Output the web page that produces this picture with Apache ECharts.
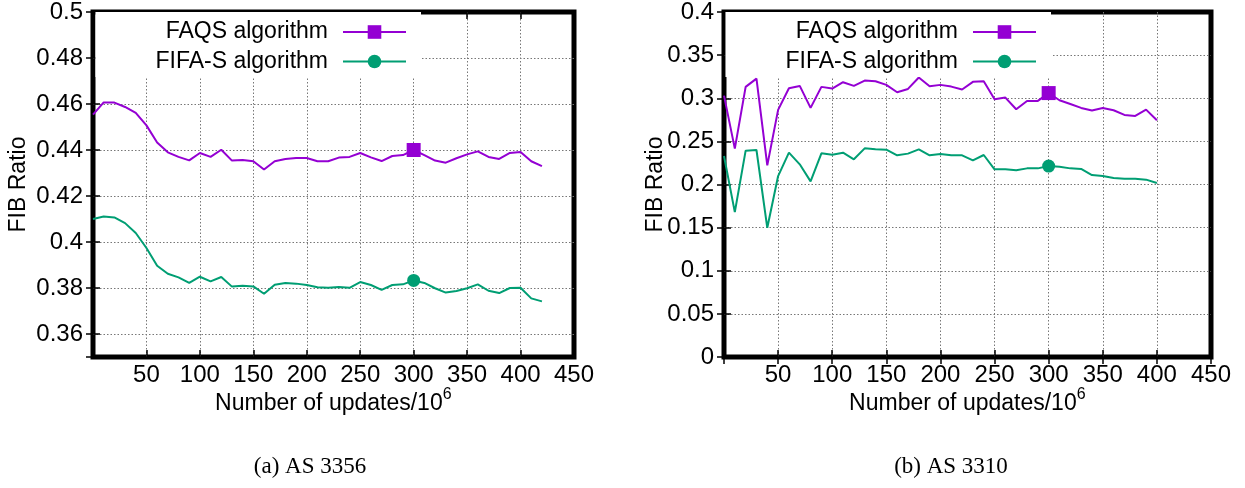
<!DOCTYPE html>
<html><head><meta charset="utf-8">
<script src="https://cdn.jsdelivr.net/npm/echarts@6/dist/echarts.min.js"></script>
<style>html,body{margin:0;padding:0;background:#fff}#c{width:1245px;height:488px}</style>
</head><body><div id="c"></div>
<script>
// ---- data ----
const xA = [0,10,20,30,40,50,60,70,80,90,100,110,120,130,140,150,160,170,180,190,200,210,220,230,240,250,260,270,280,290,300,310,320,330,340,350,360,370,380,390,400,410,420];
const faqsA = [0.4554,0.4607,0.4606,0.4587,0.4561,0.4507,0.4433,0.4390,0.4370,0.4355,0.4387,0.4370,0.4401,0.4354,0.4357,0.4351,0.4315,0.4351,0.4361,0.4365,0.4365,0.4351,0.4351,0.4367,0.4370,0.4387,0.4368,0.4352,0.4374,0.4378,0.4400,0.4378,0.4354,0.4345,0.4364,0.4381,0.4394,0.4370,0.4361,0.4387,0.4391,0.4351,0.4330];
const fifaA = [0.4100,0.4111,0.4107,0.4082,0.4039,0.3974,0.3897,0.3862,0.3846,0.3822,0.3849,0.3829,0.3848,0.3806,0.3810,0.3807,0.3775,0.3814,0.3822,0.3819,0.3813,0.3803,0.3801,0.3804,0.3801,0.3826,0.3813,0.3792,0.3813,0.3816,0.3833,0.3822,0.3799,0.3780,0.3787,0.3799,0.3816,0.3788,0.3778,0.3800,0.3801,0.3755,0.3742];
const xB = [0,10,20,30,40,50,60,70,80,90,100,110,120,130,140,150,160,170,180,190,200,210,220,230,240,250,260,270,280,290,300,310,320,330,340,350,360,370,380,390,400];
const faqsB = [0.303,0.2416,0.3132,0.3228,0.2222,0.2865,0.3116,0.3143,0.2888,0.3132,0.3112,0.3186,0.3143,0.3205,0.3197,0.3155,0.3070,0.3108,0.3240,0.3139,0.3155,0.3135,0.3101,0.3190,0.3197,0.2988,0.3008,0.2872,0.2969,0.2969,0.3060,0.2977,0.2934,0.2888,0.2857,0.2888,0.2861,0.2807,0.2795,0.2868,0.2745];
const fifaB = [0.233,0.168,0.2392,0.2400,0.1498,0.2098,0.2369,0.2234,0.2036,0.2361,0.2346,0.2369,0.2292,0.2419,0.2408,0.2404,0.2338,0.2358,0.2408,0.2338,0.2354,0.2338,0.2338,0.2280,0.2342,0.2176,0.2176,0.2164,0.2187,0.2187,0.2214,0.2207,0.2187,0.2180,0.2110,0.2098,0.2075,0.2067,0.2067,0.2056,0.2017];
const markX = 300;
const seriesNames = ['FAQS algorithm', 'FIFA-S algorithm'];
const captions = ['(a) AS 3356', '(b) AS 3310'];
const xName = 'Number of updates/10';
const xNameSup = '6';
const yName = 'FIB Ratio';
const xRange = [0, 450];
const yRangeA = [0.35, 0.5];
const yRangeB = [0, 0.4];

// ---- style ----
const PURPLE = '#9400D3', GREEN = '#009E73';
const FONT = 'Liberation Sans, Arial, Helvetica, sans-serif';
const TICK_FS = 24;

const pairs = (xs, ys) => xs.map((x, i) => [x, ys[i]]);

const grids = [
  {left: 93, top: 12, width: 481, height: 345, show: true, borderColor: '#000', borderWidth: 5, backgroundColor: 'transparent'},
  {left: 724, top: 12, width: 487, height: 345, show: true, borderColor: '#000', borderWidth: 5, backgroundColor: 'transparent'}
];

const splitStyle = {show: true, showMinLine: false, showMaxLine: false, lineStyle: {color: '#777', width: 1, type: [1.5, 2]}};
const tickStyle = {show: true, inside: true, length: 7, lineStyle: {color: '#000', width: 1.5}};

function xMain(gi) {
  return {
    type: 'value', gridIndex: gi, min: xRange[0], max: xRange[1], interval: 50, position: 'bottom',
    axisLine: {show: false}, axisTick: tickStyle, splitLine: splitStyle,
    axisLabel: {show: true, showMinLabel: false, margin: 6, color: '#000', fontFamily: FONT, fontSize: TICK_FS},
    name: '{m|' + xName + '}{s|' + xNameSup + '}{h| }', nameLocation: 'middle', nameGap: 30, nameMoveOverlap: false,
    nameTextStyle: {rich: {
      m: {fontFamily: FONT, fontSize: 23, lineHeight: 23, verticalAlign: 'bottom', color: '#000'},
      s: {fontFamily: FONT, fontSize: 16, lineHeight: 16, verticalAlign: 'top', color: '#000'},
      h: {fontSize: 1, lineHeight: 28}
    }}
  };
}
function xMirror(gi) {
  return {
    type: 'value', gridIndex: gi, min: xRange[0], max: xRange[1], interval: 50, position: 'top',
    axisLine: {show: false}, axisTick: tickStyle, splitLine: {show: false}, axisLabel: {show: false}
  };
}
function yMain(gi, rng, extra, gap) {
  return Object.assign({
    type: 'value', gridIndex: gi, min: rng[0], max: rng[1], position: 'left',
    axisLine: {show: false}, axisTick: tickStyle, splitLine: splitStyle,
    axisLabel: {show: true, margin: 10, color: '#000', fontFamily: FONT, fontSize: TICK_FS},
    name: yName, nameLocation: 'middle', nameGap: gap, nameMoveOverlap: false,
    nameTextStyle: {fontFamily: FONT, fontSize: 23, color: '#000'}
  }, extra);
}
function yMirror(gi, rng, extra) {
  return Object.assign({
    type: 'value', gridIndex: gi, min: rng[0], max: rng[1], position: 'right',
    axisLine: {show: false}, axisTick: tickStyle, splitLine: {show: false}, axisLabel: {show: false}
  }, extra);
}

const yA = yMain(0, yRangeA, {splitNumber: 7}, 63);
yA.axisLabel.showMinLabel = false;
const yB = yMain(1, yRangeB, {interval: 0.05}, 57);

function lineSeries(name, color, symbol, size, xi, yi, data) {
  return {
    type: 'line', name: name, xAxisIndex: xi, yAxisIndex: yi, data: data,
    symbol: symbol, showAllSymbol: true,
    symbolSize: (v) => (v[0] === markX ? size : 0),
    lineStyle: {color: color, width: 2}, itemStyle: {color: color},
    emphasis: {disabled: true}, z: 3
  };
}

function legend(right) {
  return {
    data: seriesNames, orient: 'vertical', align: 'right', right: right, top: 12,
    itemWidth: 63, itemHeight: 17, itemGap: 6.5,
    padding: [8.5, 14, 4, 60], backgroundColor: '#fff', selectedMode: false,
    textStyle: {fontFamily: FONT, fontSize: 23, color: '#000', lineHeight: 17, padding: [0, 10, 0, 0]}
  };
}

const option = {
  animation: false,
  backgroundColor: '#fff',
  grid: grids,
  xAxis: [xMain(0), xMirror(0), xMain(1), xMirror(1)],
  yAxis: [yA, yMirror(0, yRangeA, {splitNumber: 7}), yB, yMirror(1, yRangeB, {interval: 0.05})],
  legend: [legend(1245 - 421), legend(1245 - 1051)],
  series: [
    lineSeries(seriesNames[0], PURPLE, 'rect', 14, 0, 0, pairs(xA, faqsA)),
    lineSeries(seriesNames[1], GREEN, 'circle', 13, 0, 0, pairs(xA, fifaA)),
    lineSeries(seriesNames[0], PURPLE, 'rect', 14, 2, 2, pairs(xB, faqsB)),
    lineSeries(seriesNames[1], GREEN, 'circle', 13, 2, 2, pairs(xB, fifaB))
  ],
  graphic: [
    {type: 'text', x: 310, y: 467, style: {text: captions[0], textAlign: 'center', textVerticalAlign: 'middle', font: '23px "Liberation Serif", "Times New Roman", serif', fill: '#000'}},
    {type: 'text', x: 951, y: 467, style: {text: captions[1], textAlign: 'center', textVerticalAlign: 'middle', font: '23px "Liberation Serif", "Times New Roman", serif', fill: '#000'}}
  ]
};

const chart = echarts.init(document.getElementById('c'), null, {renderer: 'canvas'});
chart.setOption(option);
</script>
</body></html>
